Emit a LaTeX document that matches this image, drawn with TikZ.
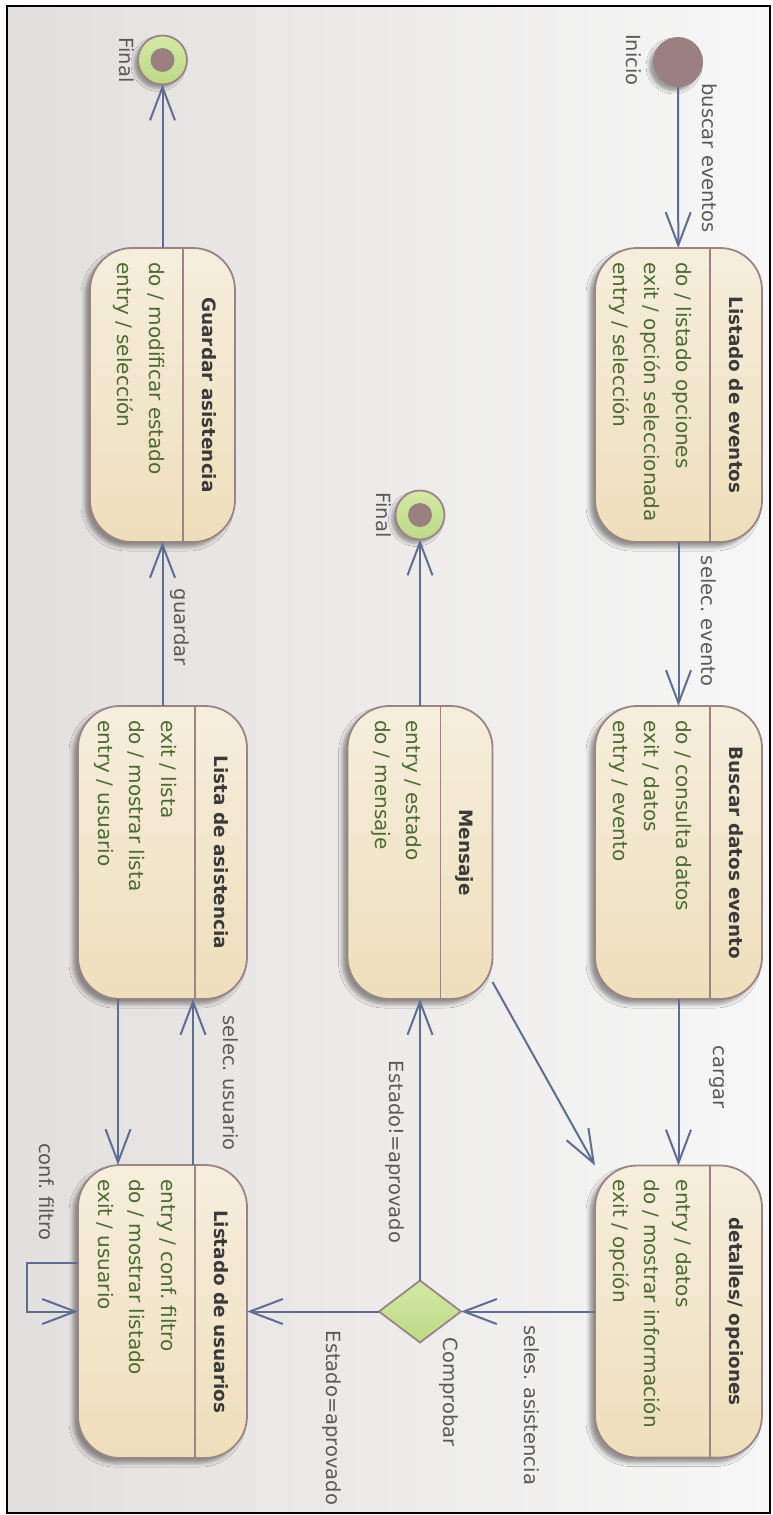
\documentclass[tikz,border=0pt]{standalone}
\usepackage{fontspec}
\setmainfont{DejaVu Sans}
\usetikzlibrary{arrows.meta,shapes.geometric,shadows.blur,calc}
\frenchspacing

\definecolor{bgleft}{HTML}{E2E0DE}
\definecolor{bgright}{HTML}{F7F7F7}
\definecolor{boxtop}{HTML}{F6EEDD}
\definecolor{boxbot}{HTML}{EEDFBB}
\definecolor{boxline}{HTML}{9C8384}
\definecolor{dotfill}{HTML}{9A8080}
\definecolor{greentop}{HTML}{D3E9A6}
\definecolor{greenbot}{HTML}{BCD985}
\definecolor{conncol}{HTML}{5D6D93}
\definecolor{titlecol}{HTML}{3A3A3A}
\definecolor{bodycol}{HTML}{4A6A30}
\definecolor{labelcol}{HTML}{595959}

\newcommand{\bodyfont}{\fontsize{20}{24}\selectfont}
\newcommand{\lblfont}{\fontsize{19.5}{24}\selectfont}
\newcommand{\ttlfont}{\fontsize{18.4}{22}\selectfont\bfseries}

% title band and activity lines of a state box
\newcommand{\statetitle}[2]{%
  \draw[boxline, line width=1.8pt] ($(#1.north east)+(-52,0)$) -- ($(#1.south east)+(-52,0)$);
  \node[ttl] (#1-t) at ($(#1.east)+(-33,0)$) {#2};}
\newcommand{\stateline}[3]{%
  \node[bodyline] (#1-l#2) at ($(#1.north east)+(-86-31.5*#2,14)$) {#3};}

\begin{document}
\begin{tikzpicture}[x=1pt, y=-1pt,
  statebox/.style={draw=boxline, line width=1.8pt, rounded corners=42pt,
    top color=boxtop, bottom color=boxbot, inner sep=0pt, outer sep=0pt,
    blur shadow={shadow xshift=-5pt, shadow yshift=-5pt, shadow blur radius=4pt, shadow opacity=40}},
  ttl/.style={rotate=-90, anchor=base, font=\ttlfont, text=titlecol, inner sep=0pt},
  bodyline/.style={rotate=-90, anchor=base west, font=\bodyfont, text=bodycol, inner sep=0pt},
  lbl/.style={rotate=-90, anchor=base, font=\lblfont, text=labelcol, inner sep=0pt},
  conn/.style={draw=conncol, line width=2pt, -{Straight Barb[length=33pt, width=25pt]}},
  initdot/.style={circle, fill=dotfill, minimum size=50pt, inner sep=0pt, outer sep=0pt,
    blur shadow={shadow xshift=-4pt, shadow yshift=-4pt, shadow blur radius=3pt, shadow opacity=35}},
  finalring/.style={circle, draw=boxline, line width=1.8pt, top color=greentop, bottom color=greenbot,
    minimum size=49pt, inner sep=0pt, outer sep=0pt,
    blur shadow={shadow xshift=-4pt, shadow yshift=-4pt, shadow blur radius=3pt, shadow opacity=35}},
  enddot/.style={circle, fill=dotfill, minimum size=24pt, inner sep=0pt},
  choice/.style={diamond, draw=boxline, line width=1.8pt, top color=greentop, bottom color=greenbot,
    minimum width=82pt, minimum height=62pt, inner sep=0pt, outer sep=0pt}]

\useasboundingbox (0,0) rectangle (772,1515);
\fill[white] (0,0) rectangle (772,1515);
\shade[left color=bgleft, right color=bgright] (7,6) rectangle (770,1513);
\draw[black, line width=2pt] (7,6) rectangle (770,1513);

% pseudo states
\node[initdot] (ini) at (678,62) {};
\node[lbl] (ini-lab) at (626,60) {Inicio};
\node[finalring] (fin1) at (420,515) {};
\node[enddot] (fin1-dot) at (fin1.center) {};
\node[lbl] (fin1-lab) at (376,515) {Final};
\node[finalring] (fin2) at (162.5,60) {};
\node[enddot] (fin2-dot) at (fin2.center) {};
\node[lbl] (fin2-lab) at (119,60) {Final};
\node[choice] (dia) at (420,1311.5) {};
\node[lbl] (dia-lab) at (443,1392) {Comprobar};

% states
\node[statebox, minimum width=167pt, minimum height=294pt] (lev) at (678.5,395) {};
\statetitle{lev}{Listado de eventos}
\stateline{lev}{0}{do / listado opciones}
\stateline{lev}{1}{exit / opción seleccionada}
\stateline{lev}{2}{entry / selección}

\node[statebox, minimum width=167pt, minimum height=293pt] (bde) at (678.5,852.5) {};
\statetitle{bde}{Buscar datos evento}
\stateline{bde}{0}{do / consulta datos}
\stateline{bde}{1}{exit / datos}
\stateline{bde}{2}{entry / evento}

\node[statebox, minimum width=167pt, minimum height=292pt] (det) at (678.5,1311.5) {};
\statetitle{det}{detalles/ opciones}
\stateline{det}{0}{entry / datos}
\stateline{det}{1}{do / mostrar información}
\stateline{det}{2}{exit / opción}

\node[statebox, minimum width=145pt, minimum height=293pt] (men) at (420,852.5) {};
\statetitle{men}{Mensaje}
\stateline{men}{0}{entry / estado}
\stateline{men}{1}{do / mensaje}

\node[statebox, minimum width=145pt, minimum height=294pt] (gua) at (162.5,395) {};
\statetitle{gua}{Guardar asistencia}
\stateline{gua}{0}{do / modificar estado}
\stateline{gua}{1}{entry / selección}

\node[statebox, minimum width=169pt, minimum height=293pt] (lda) at (162.5,852.5) {};
\statetitle{lda}{Lista de asistencia}
\stateline{lda}{0}{exit / lista}
\stateline{lda}{1}{do / mostrar lista}
\stateline{lda}{2}{entry / usuario}

\node[statebox, minimum width=169pt, minimum height=293pt] (lus) at (162.5,1311.5) {};
\statetitle{lus}{Listado de usuarios}
\stateline{lus}{0}{entry / conf. filtro}
\stateline{lus}{1}{do / mostrar listado}
\stateline{lus}{2}{exit / usuario}

% transitions
\draw[conn] (ini) -- (lev);
\node[lbl] (t-bus) at (702,158) {buscar eventos};
\draw[conn] (lev) -- (bde);
\node[lbl] (t-sel) at (701,621) {selec. evento};
\draw[conn] (bde) -- (det);
\node[lbl] (t-car) at (713,1077) {cargar};
\draw[conn] (det.west) -- (dia.east);
\node[lbl] (t-ses) at (524,1405) {seles. asistencia};
\draw[conn] (dia.north) -- (men.south);
\node[lbl] (t-ena) at (389,1152) {Estado!=aprovado};
\draw[conn] (dia.west) -- (lus.east);
\node[lbl] (t-eqa) at (326,1418) {Estado=aprovado};
\draw[conn] (men) -- (fin1);
\draw[conn] ([yshift=17pt]men.south east) -- (det.north west);
\draw[conn] ([xshift=-44.5pt]lda.south) -- ([xshift=-44.5pt]lus.north);
\draw[conn] ([xshift=30.5pt]lus.north) -- ([xshift=30.5pt]lda.south);
\node[lbl] (t-seu) at (223,1083) {selec. usuario};
\draw[conn] ([yshift=49pt]lus.west) -- ++(-51,0) |- (lus.west);
\node[lbl] (t-cnf) at (39,1192) {conf. filtro};
\draw[conn] (lda) -- (gua);
\node[lbl] (t-gua) at (174,627) {guardar};
\draw[conn] (gua) -- (fin2);
\end{tikzpicture}
\end{document}
